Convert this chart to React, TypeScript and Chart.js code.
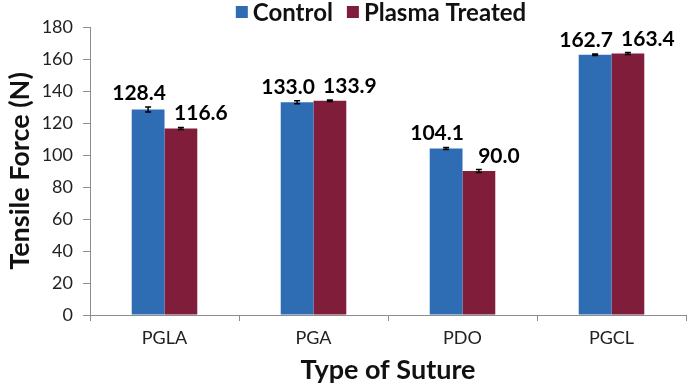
import React, { useEffect, useRef } from "react";
import { Chart, registerables } from "chart.js";

Chart.register(...registerables);

const categories = ["PGLA", "PGA", "PDO", "PGCL"];
const controlValues = [128.4, 133.0, 104.1, 162.7];
const treatedValues = [116.6, 133.9, 90.0, 163.4];
const controlErrors = [1.6, 0.9, 0.6, 0.5];
const treatedErrors = [0.6, 0.5, 0.9, 0.6];
const seriesNames = ["Control", "Plasma Treated"];
const yTicks = { min: 0, max: 180, step: 20 };

const FONT = "Lato, 'Open Sans', sans-serif";
const BLUE = "#2E6DB4";
const RED = "#7F1D3A";
const AXIS = "#8C8C8C";

const overlayPlugin = {
  id: "overlay",
  afterDatasetsDraw(chart: any) {
    const ctx = chart.ctx;
    const errs = [controlErrors, treatedErrors];
    const vals = [controlValues, treatedValues];
    const yScale = chart.scales.y;
    ctx.save();
    chart.data.datasets.forEach((ds: any, di: number) => {
      const meta = chart.getDatasetMeta(di);
      meta.data.forEach((bar: any, i: number) => {
        const v = vals[di][i];
        const e = errs[di][i];
        const x = bar.x;
        const yTop = yScale.getPixelForValue(v + e);
        const yBot = yScale.getPixelForValue(v - e);
        ctx.strokeStyle = "#000";
        ctx.lineWidth = 1.5;
        ctx.beginPath();
        ctx.moveTo(x, yTop);
        ctx.lineTo(x, yBot);
        ctx.moveTo(x - 3, yTop);
        ctx.lineTo(x + 3, yTop);
        ctx.moveTo(x - 3, yBot);
        ctx.lineTo(x + 3, yBot);
        ctx.stroke();
        ctx.fillStyle = "#000";
        ctx.font = "bold 21px " + FONT;
        ctx.textAlign = "center";
        ctx.textBaseline = "alphabetic";
        const dx = di === 0 ? -9 : 20;
        ctx.fillText(v.toFixed(1), x + dx, yTop - 7);
      });
    });
    ctx.restore();
  },
  afterDraw(chart: any) {
    // legend drawn above the plot area
    const ctx = chart.ctx;
    const ca = chart.chartArea;
    ctx.save();
    ctx.font = "bold 24px " + FONT;
    ctx.textBaseline = "middle";
    ctx.textAlign = "left";
    const box = 12;
    const gapText = 5;
    const gapItem = 14;
    const items = chart.data.datasets.map((ds: any) => ({
      label: ds.label,
      color: ds.backgroundColor,
      w: ctx.measureText(ds.label).width,
    }));
    const total = items.reduce((a: number, it: any) => a + box + gapText + it.w, 0) + gapItem * (items.length - 1);
    let x = (ca.left + ca.right) / 2 - 7 - total / 2;
    const cy = 12;
    items.forEach((it: any) => {
      ctx.fillStyle = it.color;
      ctx.fillRect(x, cy - box / 2, box, box);
      x += box + gapText;
      ctx.fillStyle = "#111";
      ctx.fillText(it.label, x, cy + 1);
      x += it.w + gapItem;
    });
    ctx.restore();
  },
};

export default function App() {
  const ref = useRef<HTMLCanvasElement>(null);
  useEffect(() => {
    document.body.style.margin = "0";
    const chart = new Chart(ref.current!, {
      type: "bar",
      data: {
        labels: categories,
        datasets: [
          { label: seriesNames[0], data: controlValues, backgroundColor: BLUE, categoryPercentage: 0.44, barPercentage: 1 },
          { label: seriesNames[1], data: treatedValues, backgroundColor: RED, categoryPercentage: 0.44, barPercentage: 1 },
        ],
      },
      options: {
        animation: false,
        responsive: false,
        layout: { padding: { left: 4, right: 1, top: 27, bottom: 0 } },
        plugins: {
          tooltip: { enabled: false },
          legend: { display: false },
        },
        scales: {
          x: {
            grid: { drawOnChartArea: false, drawTicks: true, tickLength: 6, color: AXIS, offset: true },
            border: { display: true, color: AXIS },
            ticks: { font: { family: FONT, size: 18 }, color: "#222", padding: 6 },
            title: {
              display: true,
              text: "Type of Suture",
              font: { family: FONT, size: 27, weight: "bold" },
              color: "#111",
              padding: { top: 0, bottom: 0 },
            },
            afterFit: (s: any) => { s.height = 71; },
          },
          y: {
            min: yTicks.min,
            max: yTicks.max,
            grid: { drawOnChartArea: false, drawTicks: true, tickLength: 7, color: AXIS },
            border: { display: true, color: AXIS },
            ticks: { stepSize: yTicks.step, font: { family: FONT, size: 18 }, color: "#222", padding: 10 },
            title: {
              display: true,
              text: "Tensile Force (N)",
              font: { family: FONT, size: 27, weight: "bold" },
              color: "#111",
              padding: { top: 0, bottom: 0 },
            },
            afterFit: (s: any) => { s.width = 86; },
          },
        },
      },
      plugins: [overlayPlugin],
    });
    return () => chart.destroy();
  }, []);
  return (
    <div style={{ width: 687, height: 386 }}>
      <canvas ref={ref} width={687} height={386} style={{ display: "block" }} />
    </div>
  );
}
